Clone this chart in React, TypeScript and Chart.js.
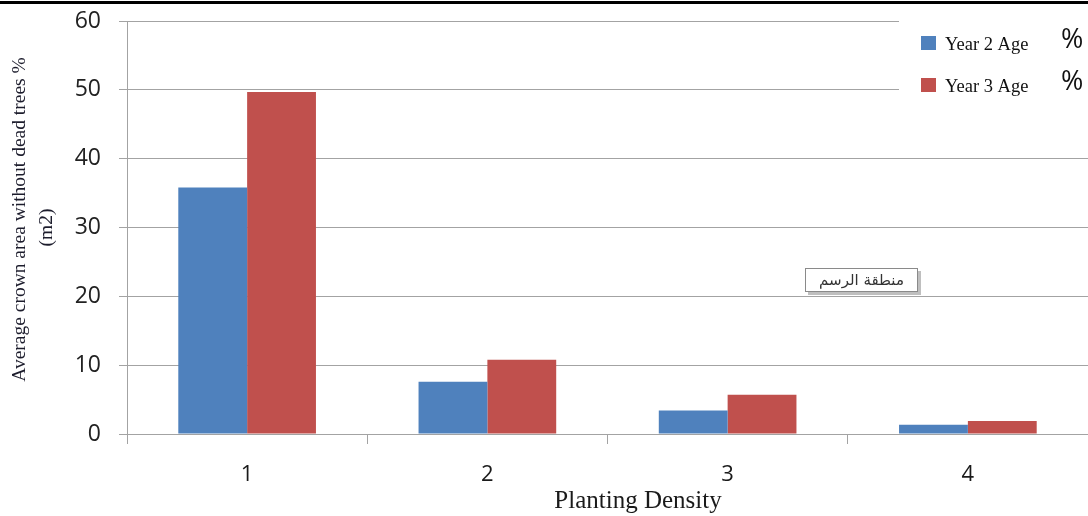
import React, { useEffect, useRef } from "react";
import { Chart, registerables } from "chart.js";

Chart.register(...registerables);

const categories = ["1", "2", "3", "4"];
const year2Values = [35.8, 7.6, 3.4, 1.35];
const year3Values = [49.7, 10.8, 5.7, 1.9];
const seriesNames = ["Year 2 Age", "Year 3 Age"];
const seriesColors = ["#4F81BD", "#C0504D"];
const yTitleLines = ["Average crown area without dead trees %", "(m2)"];
const xTitle = "Planting Density";
const plotAreaLabel = "منطقة الرسم";

const W = 1088;
const H = 516;
const GRID = "#a3a3a3";

// Decorations drawn on the canvas: frame bar, legend, axis titles, plot-area label
const overlay = {
  id: "overlay",
  afterDraw(chart: any) {
    const ctx = chart.ctx as CanvasRenderingContext2D;
    const area = chart.chartArea;
    ctx.save();

    // top frame bar
    ctx.fillStyle = "#000";
    ctx.fillRect(0, 1, W, 3);

    // legend box
    ctx.fillStyle = "#fff";
    ctx.fillRect(899, 8, W - 899, 118);
    seriesNames.forEach((name, i) => {
      const cy = 43 + i * 42;
      ctx.fillStyle = seriesColors[i];
      ctx.fillRect(921, cy - 7, 15, 14);
      ctx.fillStyle = "#111";
      ctx.font = "18.5px 'Liberation Serif'";
      ctx.textAlign = "left";
      ctx.textBaseline = "middle";
      ctx.fillText(name, 945, cy + 2);
      ctx.font = "27px 'Open Sans'";
      ctx.fillText("%", 1061, cy - 3);
    });

    // y axis title (rotated, two lines)
    ctx.fillStyle = "#1c1c2c";
    ctx.font = "19.5px 'Liberation Serif'";
    ctx.textAlign = "center";
    ctx.textBaseline = "middle";
    const cy = (area.top + area.bottom) / 2;
    [
      { x: 20, y: cy - 8 },
      { x: 47, y: cy },
    ].forEach((p, i) => {
      ctx.save();
      ctx.translate(p.x, p.y);
      ctx.rotate(-Math.PI / 2);
      ctx.fillText(yTitleLines[i], 0, 0);
      ctx.restore();
    });

    // x axis title
    ctx.fillStyle = "#1a1a1a";
    ctx.font = "25px 'Liberation Serif'";
    ctx.fillText(xTitle, 638, 501);

    // plot-area label box
    const bx = 805, by = 268, bw = 113, bh = 24;
    ctx.fillStyle = "rgba(0,0,0,0.25)";
    ctx.fillRect(bx + 3, by + 3, bw, bh);
    ctx.fillStyle = "#fff";
    ctx.fillRect(bx, by, bw, bh);
    ctx.strokeStyle = "#8a8a8a";
    ctx.lineWidth = 1;
    ctx.strokeRect(bx + 0.5, by + 0.5, bw - 1, bh - 1);
    ctx.fillStyle = "#333";
    ctx.font = "15px 'DejaVu Sans'";
    ctx.fillText(plotAreaLabel, bx + bw / 2, by + bh / 2 + 1);

    ctx.restore();
  },
};

export default function App() {
  const ref = useRef<HTMLCanvasElement | null>(null);

  useEffect(() => {
    if (!ref.current) return;
    const chart = new Chart(ref.current, {
      type: "bar",
      data: {
        labels: categories,
        datasets: [
          {
            label: seriesNames[0],
            data: year2Values,
            backgroundColor: seriesColors[0],
            categoryPercentage: 0.573,
            barPercentage: 1,
          },
          {
            label: seriesNames[1],
            data: year3Values,
            backgroundColor: seriesColors[1],
            categoryPercentage: 0.573,
            barPercentage: 1,
          },
        ],
      },
      options: {
        responsive: false,
        animation: false,
        layout: { padding: { top: 21, right: 0, left: 0, bottom: 0 } },
        plugins: {
          legend: { display: false },
          tooltip: { enabled: false },
          title: { display: false },
        },
        scales: {
          x: {
            offset: true,
            grid: {
              offset: true,
              drawOnChartArea: false,
              drawTicks: true,
              tickLength: 10,
              color: GRID,
            },
            border: { color: GRID },
            ticks: {
              color: "#1a1a1a",
              font: { family: "'Open Sans'", size: 22 },
              padding: 18,
            },
            afterFit(scale: any) {
              scale.height = H - 434;
              scale.paddingLeft = 0;
              scale.paddingRight = 0;
            },
          },
          y: {
            min: 0,
            max: 60,
            grid: { color: GRID, tickLength: 8 },
            border: { color: GRID },
            ticks: {
              stepSize: 10,
              color: "#222",
              font: { family: "'Open Sans'", size: 23 },
              padding: 18,
            },
            afterFit(scale: any) {
              scale.width = 127;
              scale.paddingTop = 0;
              scale.paddingBottom = 0;
            },
          },
        },
      },
      plugins: [overlay],
    });
    return () => chart.destroy();
  }, []);

  return (
    <div style={{ position: "fixed", left: 0, top: 0, width: W, height: H, background: "#fff" }}>
      <canvas ref={ref} width={W} height={H} style={{ display: "block" }} />
    </div>
  );
}
